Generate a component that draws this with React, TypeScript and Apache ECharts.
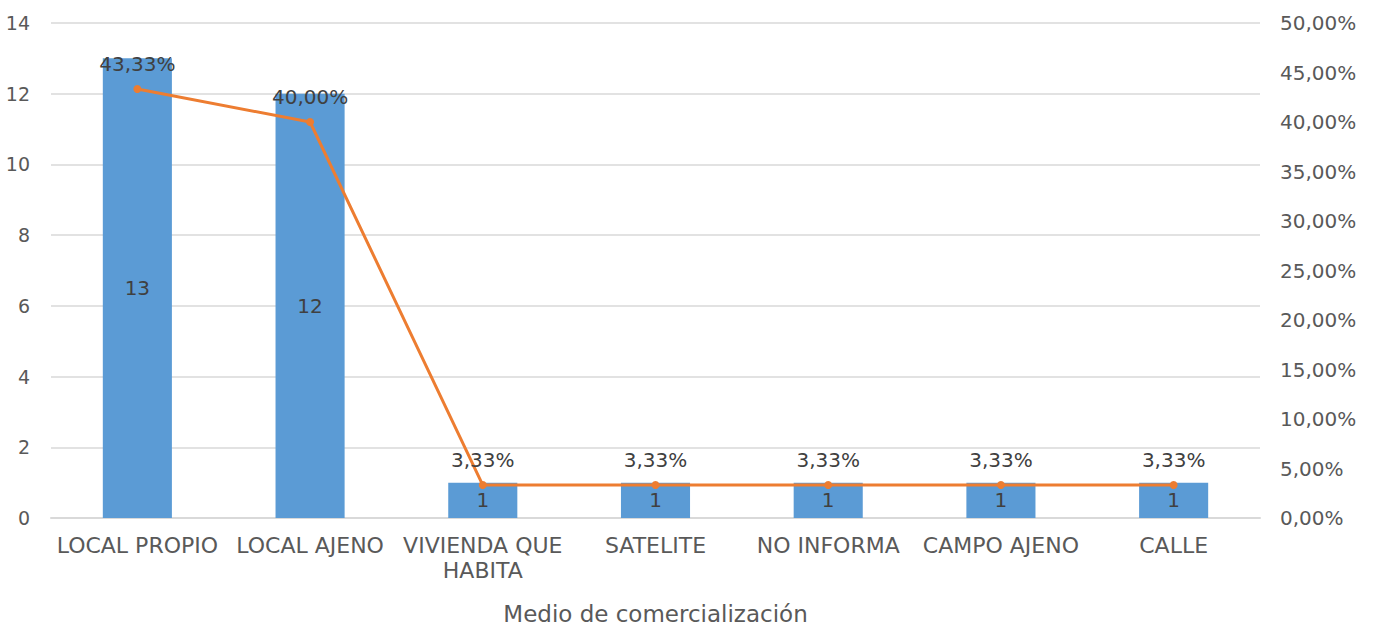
import React, { useEffect, useRef } from "react";
import * as echarts from "echarts";

const categories = ["LOCAL PROPIO", "LOCAL AJENO", "VIVIENDA QUE\nHABITA", "SATELITE", "NO INFORMA", "CAMPO AJENO", "CALLE"];
const counts = [13, 12, 1, 1, 1, 1, 1];
const percents = [43.33, 40.0, 3.33, 3.33, 3.33, 3.33, 3.33];
const xAxisTitle = "Medio de comercialización";

const FONT = "DejaVu Sans";
const TXT = "#595959";

const fmtPct = (v: number) => v.toFixed(2).replace(".", ",") + "%";

export default function App() {
  const ref = useRef<HTMLDivElement>(null);
  useEffect(() => {
    if (!ref.current) return;
    const chart = echarts.init(ref.current, undefined, { renderer: "svg" });
    chart.setOption({
      animation: false,
      textStyle: { fontFamily: FONT },
      grid: { left: 51, right: 115, top: 23, bottom: 112, containLabel: false, outerBoundsMode: "none" },
      xAxis: {
        type: "category",
        data: categories,
        name: xAxisTitle,
        nameLocation: "middle",
        nameGap: 84,
        nameTextStyle: { fontSize: 23, color: TXT, fontFamily: FONT },
        axisLine: { lineStyle: { color: "#d9d9d9", width: 2 } },
        axisTick: { show: false },
        axisLabel: { fontSize: 22, color: TXT, margin: 15, lineHeight: 25, interval: 0, fontFamily: FONT },
      },
      yAxis: [
        {
          type: "value",
          min: 0,
          max: 14,
          interval: 2,
          axisLine: { show: false },
          axisTick: { show: false },
          axisLabel: { fontSize: 19, color: TXT, margin: 21, fontFamily: FONT },
          splitLine: { lineStyle: { color: "#d9d9d9", width: 1.5 } },
        },
        {
          type: "value",
          min: 0,
          max: 50,
          interval: 5,
          position: "right",
          axisLine: { show: false },
          axisTick: { show: false },
          axisLabel: { fontSize: 20, color: TXT, margin: 20, fontFamily: FONT, formatter: (v: number) => fmtPct(v) },
          splitLine: { show: false },
        },
      ],
      series: [
        {
          type: "bar",
          data: counts,
          barWidth: "40%",
          itemStyle: { color: "#5b9bd5" },
          label: { show: true, position: "inside", fontSize: 20, color: "#404040", fontFamily: FONT },
          z: 1,
        },
        {
          type: "line",
          yAxisIndex: 1,
          data: percents,
          symbol: "circle",
          symbolSize: 8,
          lineStyle: { color: "#ed7d31", width: 3 },
          itemStyle: { color: "#ed7d31" },
          label: {
            show: true,
            position: "top",
            distance: 11,
            fontSize: 20,
            color: "#404040",
            fontFamily: FONT,
            formatter: (p: any) => fmtPct(p.value),
          },
          z: 3,
        },
      ],
    });
    return () => chart.dispose();
  }, []);
  return <div ref={ref} style={{ position: "absolute", left: 0, top: 0, width: 1375, height: 630 }} />;
}
